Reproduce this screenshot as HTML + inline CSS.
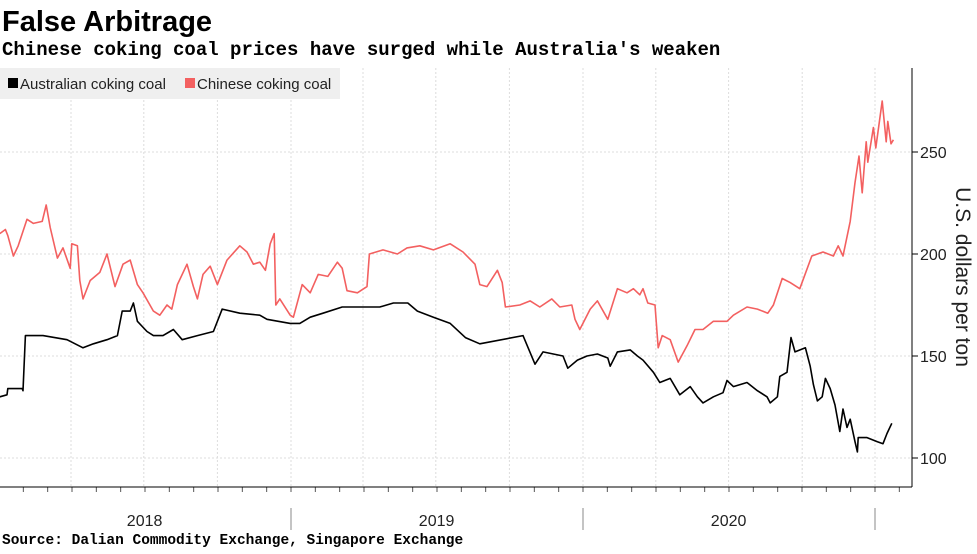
<!DOCTYPE html>
<html><head><meta charset="utf-8"><style>
body{margin:0;background:#fff;width:977px;height:549px;overflow:hidden;font-family:"Liberation Sans",sans-serif}
</style></head><body>
<svg width="977" height="549" viewBox="0 0 977 549" xmlns="http://www.w3.org/2000/svg">
<text x="2" y="31" font-family="Liberation Sans, sans-serif" font-weight="bold" font-size="29" fill="#000">False Arbitrage</text>
<text x="2" y="55" font-family="Liberation Mono, monospace" font-weight="bold" font-size="19" fill="#000">Chinese coking coal prices have surged while Australia's weaken</text>
<g id="grid"></g>
<rect x="0" y="68" width="340" height="31" fill="#efefef"/>
<g><rect x="8" y="78" width="10" height="10" fill="#000"/><text x="20" y="89" font-size="15" fill="#222">Australian coking coal</text></g>
<g><rect x="185" y="78" width="10" height="10" fill="#f36060"/><text x="197" y="89" font-size="15" fill="#222">Chinese coking coal</text></g>
<g id="axes"></g>
<g id="series"></g>
<text transform="translate(956,277) rotate(90)" text-anchor="middle" font-size="21" fill="#222">U.S. dollars per ton</text>
<text x="2" y="544" font-family="Liberation Mono, monospace" font-weight="bold" font-size="14.5" fill="#000">Source: Dalian Commodity Exchange, Singapore Exchange</text>
</svg>
<script>
// x domain: days since 2018-01-01
const ausDays=[1,10,11,29,30,33,55,85,105,118,135,148,154,164,168,173,185,193,205,218,229,248,268,279,301,326,335,364,376,389,405,429,451,476,493,511,523,543,564,583,601,655,670,680,705,711,723,735,748,761,764,773,789,798,805,818,826,839,851,864,873,880,893,905,910,918,935,948,960,964,973,976,985,990,995,1008,1014,1018,1023,1029,1033,1039,1045,1051,1055,1060,1064,1070,1073,1074,1085,1098,1105,1110,1116];
const ausVals=[130,131,134,134,133,160,160,158,154,156,158,160,172,172,176,167,162,160,160,163,158,160,162,173,171,170,168,166,166,169,171,174,174,174,176,176,172,169,166,159,156,160,146,152,150,144,148,150,151,149,145,152,153,150,148,142,137,139,131,135,130,127,130,132,138,135,137,133,130,127,130,140,142,159,152,154,145,136,128,130,139,134,126,113,124,115,119,108,103,110,110,108,107,112,117];
const chnDays=[1,8,11,18,24,35,43,54,59,64,73,80,89,91,98,101,105,114,126,135,145,155,164,173,180,193,201,210,216,223,235,243,248,255,264,273,285,301,310,318,326,333,339,344,346,351,364,368,379,389,399,411,423,429,435,448,460,463,480,498,510,526,543,564,580,595,601,610,623,629,633,651,664,676,691,701,716,720,726,739,748,761,773,785,793,801,805,811,820,824,829,839,849,860,870,880,893,910,918,935,948,961,968,979,989,1001,1016,1030,1043,1049,1055,1064,1070,1075,1079,1084,1086,1093,1096,1104,1109,1111,1115,1118];
const chnVals=[210,212,209,199,204,217,215,216,224,213,198,203,193,205,204,187,178,187,191,200,184,195,197,185,181,172,170,175,173,185,195,184,178,190,194,185,197,204,201,195,196,192,205,210,175,178,170,169,185,181,190,189,196,193,182,181,184,200,202,200,203,204,202,205,201,195,185,184,192,186,174,175,177,174,178,174,175,168,163,173,177,168,183,181,183,180,183,176,175,154,160,158,147,155,163,163,167,167,170,174,173,171,175,188,186,183,199,201,199,204,199,216,235,248,230,255,245,262,252,275,255,265,254,256];
const yTicks=[100,150,200,250];
const yearLabels=["2018","2019","2020"];
const yearStarts=[0,365,730,1095];
const quarterDays=[90,181,273,365,455,546,638,730,821,912,1004,1095];

const NS="http://www.w3.org/2000/svg";
function xs(d){return d/1.25-1;}
function ys(v){return 458-(v-100)*2.04;}
function mk(tag,attrs,parent){const e=document.createElementNS(NS,tag);for(const k in attrs)e.setAttribute(k,attrs[k]);parent.appendChild(e);return e;}
const grid=document.getElementById('grid'),axes=document.getElementById('axes'),series=document.getElementById('series');
yTicks.forEach(v=>{
  const l=mk('line',{x1:0,x2:912,y1:ys(v),y2:ys(v),stroke:'#dcdcdc','stroke-dasharray':'2,2'},grid);
  
  
  const t=mk('line',{x1:912,x2:918,y1:ys(v),y2:ys(v),stroke:'#000'},axes);
  
  
  const tx=mk('text',{x:920,y:ys(v)+6,'font-size':16,fill:'#222'},axes);
  tx.textContent=v;
  
  
});
quarterDays.forEach(d=>{
  const l=mk('line',{x1:xs(d),x2:xs(d),y1:68,y2:487,stroke:'#dcdcdc','stroke-dasharray':'2,2'},grid);
  
  
});
for(let m=0;m<=37;m++){
  const d=m*365/12;
  const t=mk('line',{x1:xs(d),x2:xs(d),y1:487,y2:492,stroke:'#555'},axes);
  
  
}
const xa=mk('line',{x1:0,x2:912,y1:487,y2:487,stroke:'#000'},axes);


const ya=mk('line',{x1:912,x2:912,y1:68,y2:487,stroke:'#000'},axes);


yearStarts.forEach((d,i)=>{
  if(i>0){const s=mk('line',{x1:xs(d),x2:xs(d),y1:508,y2:530,stroke:'#888'},axes);
  
  }
  if(i<yearLabels.length){
    const t=mk('text',{x:xs(d+182),y:526,'font-size':16,fill:'#222','text-anchor':'middle'},axes);
    t.textContent=yearLabels[i];
    
    
  }
});
function line(days,vals,color,name){
  const p=days.map((d,i)=>(i?'L':'M')+xs(d).toFixed(1)+','+ys(vals[i]).toFixed(1)).join('');
  const e=mk('path',{d:p,fill:'none',stroke:color,'stroke-width':1.6,'stroke-linejoin':'round'},series);
  
  
}
line(chnDays,chnVals,'#f36060','chinese-coking-coal-line');
line(ausDays,ausVals,'#000','australian-coking-coal-line');
</script>
</body></html>
